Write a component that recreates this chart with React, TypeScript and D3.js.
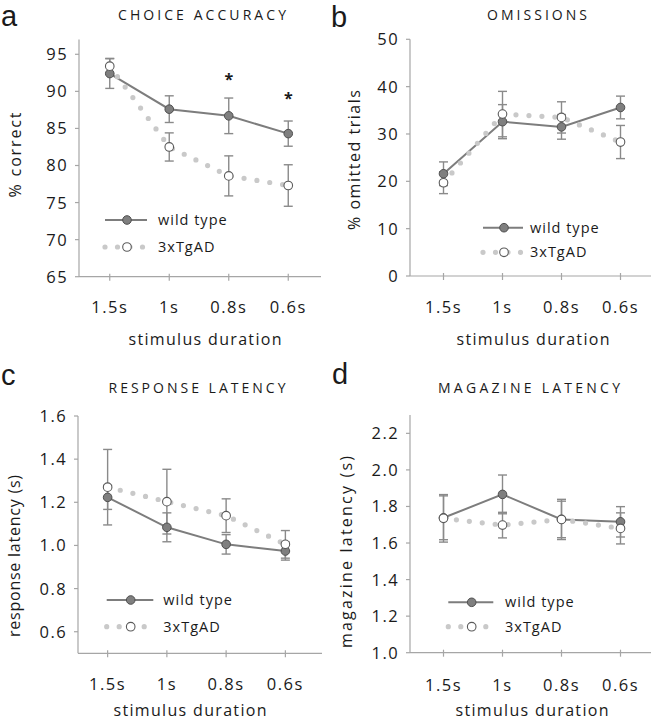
import React from "react";
import * as d3 from "d3";

const categories = ["1.5s", "1s", "0.8s", "0.6s"];

const accuracyWT = [92.4, 87.6, 86.7, 84.3];
const accuracyWTErr = [2.0, 1.8, 2.4, 1.7];
const accuracyTg = [93.4, 82.5, 78.6, 77.3];
const accuracyTgErr = [1.05, 1.9, 2.7, 2.8];
const accuracySig = [null, null, 91.9, 89.4];
const accuracyTicks = [65, 70, 75, 80, 85, 90, 95];

const omissionsWT = [21.6, 32.6, 31.5, 35.6];
const omissionsWTErr = [2.5, 3.6, 2.6, 2.4];
const omissionsTg = [19.7, 34.2, 33.5, 28.3];
const omissionsTgErr = [2.3, 4.8, 3.3, 3.5];
const omissionsTicks = [0, 10, 20, 30, 40, 50];

const responseWT = [1.223, 1.084, 1.005, 0.974];
const responseWTErr = [0.056, 0.067, 0.045, 0.042];
const responseTg = [1.27, 1.203, 1.138, 1.005];
const responseTgErr = [0.175, 0.15, 0.078, 0.064];
const responseTicks = [0.6, 0.8, 1.0, 1.2, 1.4, 1.6];

const magazineWT = [1.738, 1.866, 1.729, 1.716];
const magazineWTErr = [0.12, 0.106, 0.11, 0.083];
const magazineTg = [1.735, 1.698, 1.729, 1.68];
const magazineTgErr = [0.13, 0.07, 0.1, 0.085];
const magazineTicks = [1.0, 1.2, 1.4, 1.6, 1.8, 2.0, 2.2];

const seriesNames = ["wild type", "3xTgAD"];

const FONT = "'Open Sans', 'Noto Sans', sans-serif";
const WT_LINE = "#7d7d7d";
const WT_FILL = "#7f7f7f";
const WT_STROKE = "#4f4f4f";
const TG_DOT = "#c9c9c9";
const TG_STROKE = "#5a5a5a";
const ERR = "#8a8a8a";
const AXIS = "#a6a6a6";
const TEXT = "#1a1a1a";

type PanelCfg = {
  letter: string;
  letterX: number;
  letterY: number;
  title: string;
  titleX: number;
  titleY: number;
  titleLen: number;
  yLabel: string;
  yLabelX: number;
  yLabelY: number;
  yLabelLen: number;
  xLabelX: number;
  xLabelY: number;
  xTickY: number;
  axisX0: number;
  axisX1: number;
  bandX0: number;
  bandX1: number;
  yDomain: [number, number];
  yRange: [number, number];
  ticks: number[];
  fmt: (v: number) => string;
  wt: number[];
  wtErr: number[];
  tg: number[];
  tgErr: number[];
  sig?: (number | null)[];
  leg: { x0: number; x1: number; mx: number; tx: number; y1: number; y2: number };
};

function Panel({ c }: { c: PanelCfg }) {
  const x = d3.scalePoint<string>().domain(categories).range([c.bandX0, c.bandX1]).padding(0.5);
  const y = d3.scaleLinear().domain(c.yDomain).range(c.yRange);
  const line = d3.line<number>().x((_, i) => x(categories[i]) as number).y((v) => y(v));
  const yBottom = y(c.yDomain[0]);
  const yTop = y(c.yDomain[1]);
  const capW = 4.5;
  const r = 4.3;
  const errBars = (vals: number[], errs: number[], key: string) =>
    vals.map((v, i) => {
      const cx = x(categories[i]) as number;
      const y0 = y(v - errs[i]);
      const y1 = y(v + errs[i]);
      return (
        <g key={key + i} stroke={ERR} strokeWidth={1.4}>
          <line x1={cx} x2={cx} y1={y0} y2={y1} />
          <line x1={cx - capW} x2={cx + capW} y1={y0} y2={y0} />
          <line x1={cx - capW} x2={cx + capW} y1={y1} y2={y1} />
        </g>
      );
    });
  return (
    <g fontFamily={FONT} fill={TEXT}>
      <text x={c.letterX} y={c.letterY} fontSize={29} fontFamily="'Liberation Sans', Arial, sans-serif">
        {c.letter}
      </text>
      <text x={c.titleX} y={c.titleY} fontSize={14} textAnchor="middle" textLength={c.titleLen} lengthAdjust="spacing">
        {c.title}
      </text>
      {/* axes */}
      <line x1={c.axisX0} x2={c.axisX0} y1={yTop} y2={yBottom} stroke={AXIS} strokeWidth={1.2} />
      <line x1={c.axisX0} x2={c.axisX1} y1={yBottom} y2={yBottom} stroke={AXIS} strokeWidth={1.2} />
      {c.ticks.map((t) => (
        <g key={"yt" + t}>
          <line x1={c.axisX0 - 4} x2={c.axisX0} y1={y(t)} y2={y(t)} stroke={AXIS} strokeWidth={1.2} />
          <text x={c.axisX0 - 11} y={y(t)} dy="0.36em" fontSize={16.5} textAnchor="end" letterSpacing={1.4}>
            {c.fmt(t)}
          </text>
        </g>
      ))}
      {categories.map((cat) => (
        <g key={"xt" + cat}>
          <line
            x1={x(cat) as number}
            x2={x(cat) as number}
            y1={yBottom - 3}
            y2={yBottom + 4}
            stroke={AXIS}
            strokeWidth={1.2}
          />
          <text x={x(cat) as number} y={c.xTickY} fontSize={16.5} textAnchor="middle" letterSpacing={1.5}>
            {cat}
          </text>
        </g>
      ))}
      <text
        x={c.xLabelX}
        y={c.xLabelY}
        fontSize={16}
        textAnchor="middle"
        textLength={153}
        lengthAdjust="spacing"
      >
        stimulus duration
      </text>
      <text
        transform={`translate(${c.yLabelX},${c.yLabelY}) rotate(-90)`}
        fontSize={16}
        textAnchor="middle"
        dy="0.35em"
        textLength={c.yLabelLen}
        lengthAdjust="spacing"
      >
        {c.yLabel}
      </text>
      {/* series lines */}
      <path d={line(c.wt) || ""} fill="none" stroke={WT_LINE} strokeWidth={2} />
      <path
        d={line(c.tg) || ""}
        fill="none"
        stroke={TG_DOT}
        strokeWidth={5.2}
        strokeLinecap="round"
        strokeDasharray="0 13"
      />
      {errBars(c.tg, c.tgErr, "te")}
      {errBars(c.wt, c.wtErr, "we")}
      {c.wt.map((v, i) => (
        <circle key={"wm" + i} cx={x(categories[i]) as number} cy={y(v)} r={r} fill={WT_FILL} stroke={WT_STROKE} strokeWidth={1} />
      ))}
      {c.tg.map((v, i) => (
        <circle key={"tm" + i} cx={x(categories[i]) as number} cy={y(v)} r={r} fill="#ffffff" stroke={TG_STROKE} strokeWidth={1.1} />
      ))}
      {c.sig &&
        c.sig.map((s, i) =>
          s == null ? null : (
            <text key={"s" + i} x={x(categories[i]) as number} y={y(s) + 8} fontSize={16} fontWeight="bold" textAnchor="middle">
              *
            </text>
          )
        )}
      {/* legend */}
      <line x1={c.leg.x0} x2={c.leg.x1} y1={c.leg.y1} y2={c.leg.y1} stroke={WT_LINE} strokeWidth={2} />
      <circle cx={c.leg.mx} cy={c.leg.y1} r={r} fill={WT_FILL} stroke={WT_STROKE} strokeWidth={1} />
      <text x={c.leg.tx} y={c.leg.y1} dy="0.35em" fontSize={14.5} letterSpacing={1}>
        {seriesNames[0]}
      </text>
      <line
        x1={c.leg.x0}
        x2={c.leg.x1 - 1}
        y1={c.leg.y2}
        y2={c.leg.y2}
        stroke={TG_DOT}
        strokeWidth={5.2}
        strokeLinecap="round"
        strokeDasharray="0 12.5"
      />
      <circle cx={c.leg.mx} cy={c.leg.y2} r={r} fill="#ffffff" stroke={TG_STROKE} strokeWidth={1.1} />
      <text x={c.leg.tx} y={c.leg.y2} dy="0.35em" fontSize={14.5} letterSpacing={1}>
        {seriesNames[1]}
      </text>
    </g>
  );
}

export default function App() {
  const intFmt = (v: number) => d3.format("d")(v);
  const decFmt = (v: number) => d3.format(".1f")(v);
  const panels: PanelCfg[] = [
    {
      letter: "a", letterX: 1, letterY: 26,
      title: "CHOICE ACCURACY", titleX: 202, titleY: 20, titleLen: 168,
      yLabel: "% correct", yLabelX: 15, yLabelY: 155, yLabelLen: 85,
      xLabelX: 205, xLabelY: 345, xTickY: 313,
      axisX0: 79, axisX1: 321, bandX0: 80, bandX1: 318,
      yDomain: [65, 97], yRange: [276.7, 39.47],
      ticks: accuracyTicks, fmt: intFmt,
      wt: accuracyWT, wtErr: accuracyWTErr, tg: accuracyTg, tgErr: accuracyTgErr, sig: accuracySig,
      leg: { x0: 105, x1: 147, mx: 127, tx: 158, y1: 220, y2: 247 },
    },
    {
      letter: "b", letterX: 331, letterY: 27,
      title: "OMISSIONS", titleX: 537, titleY: 20, titleLen: 100,
      yLabel: "% omitted trials", yLabelX: 354, yLabelY: 160, yLabelLen: 140,
      xLabelX: 533, xLabelY: 345, xTickY: 313,
      axisX0: 410, axisX1: 651, bandX0: 414, bandX1: 650,
      yDomain: [0, 50], yRange: [276, 39.3],
      ticks: omissionsTicks, fmt: intFmt,
      wt: omissionsWT, wtErr: omissionsWTErr, tg: omissionsTg, tgErr: omissionsTgErr,
      leg: { x0: 483, x1: 523, mx: 504, tx: 530, y1: 227.7, y2: 252.3 },
    },
    {
      letter: "c", letterX: 1, letterY: 385,
      title: "RESPONSE LATENCY", titleX: 197, titleY: 393, titleLen: 177,
      yLabel: "response latency (s)", yLabelX: 14, yLabelY: 556, yLabelLen: 162,
      xLabelX: 190, xLabelY: 716, xTickY: 690,
      axisX0: 78, axisX1: 322, bandX0: 78, bandX1: 315,
      yDomain: [0.5, 1.6], yRange: [653.3, 416],
      ticks: responseTicks, fmt: decFmt,
      wt: responseWT, wtErr: responseWTErr, tg: responseTg, tgErr: responseTgErr,
      leg: { x0: 106.7, x1: 153.3, mx: 130.7, tx: 163.3, y1: 600, y2: 626.7 },
    },
    {
      letter: "d", letterX: 332, letterY: 384,
      title: "MAGAZINE LATENCY", titleX: 529, titleY: 393, titleLen: 182,
      yLabel: "magazine latency (s)", yLabelX: 346, yLabelY: 552, yLabelLen: 192,
      xLabelX: 532, xLabelY: 716, xTickY: 691,
      axisX0: 410, axisX1: 651, bandX0: 414, bandX1: 650,
      yDomain: [1.0, 2.3], yRange: [652.7, 415.06],
      ticks: magazineTicks, fmt: decFmt,
      wt: magazineWT, wtErr: magazineWTErr, tg: magazineTg, tgErr: magazineTgErr,
      leg: { x0: 448.3, x1: 493.3, mx: 471.7, tx: 505, y1: 602.3, y2: 626.7 },
    },
  ];
  return (
    <svg
      width={653}
      height={720}
      viewBox="0 0 653 720"
      style={{ position: "absolute", left: 0, top: 0, background: "#ffffff" }}
    >
      <rect width={653} height={720} fill="#ffffff" />
      {panels.map((p) => (
        <Panel key={p.letter} c={p} />
      ))}
    </svg>
  );
}
